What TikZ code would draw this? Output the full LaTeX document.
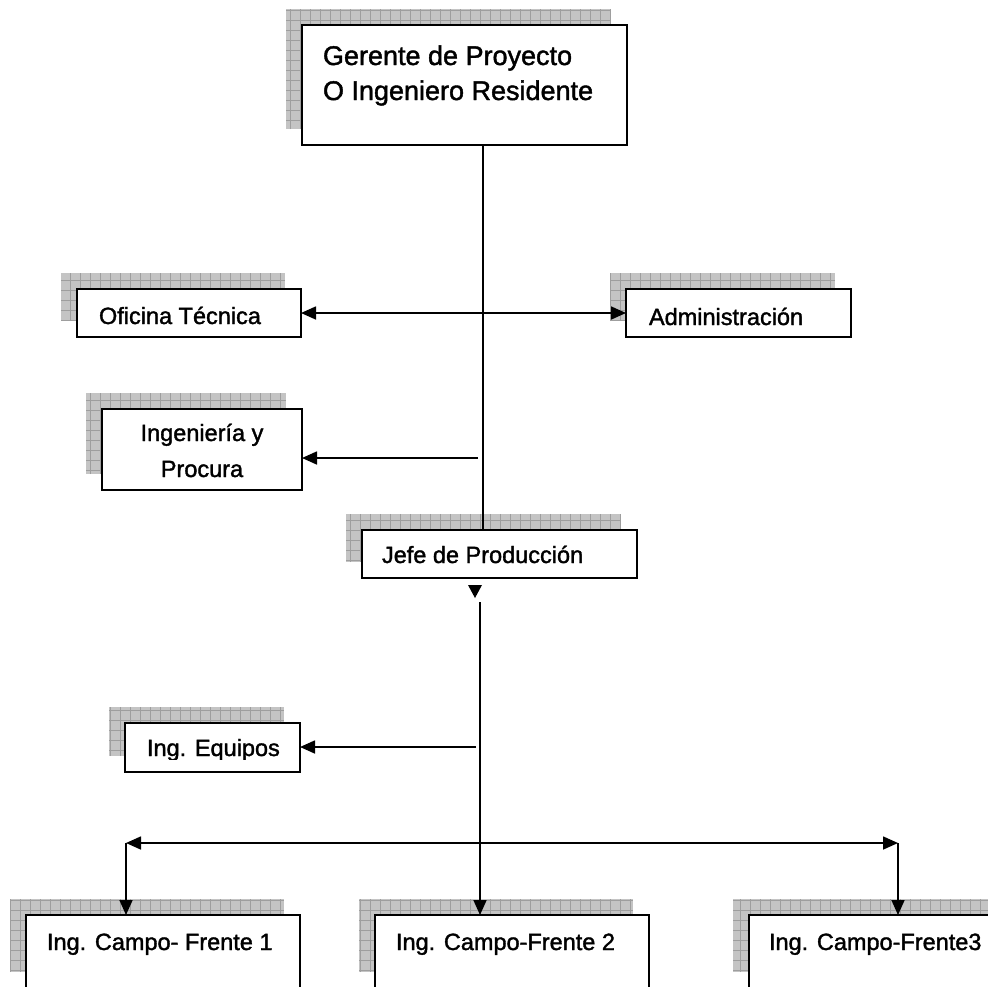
\documentclass[tikz,border=0pt]{standalone}
\usepackage{fontspec}
\setmainfont[FakeBold=1.5]{Liberation Sans}
\usetikzlibrary{arrows.meta,backgrounds}
\definecolor{shadowfill}{RGB}{196,196,196}
\definecolor{shadowgrid}{RGB}{158,158,158}
\tikzset{
  >={Triangle[length=15pt,width=13pt]},
  orgbox/.style={draw=black, line width=1.7pt, fill=white, anchor=north west,
    inner sep=0pt, outer sep=0pt},
  conn/.style={draw=black, line width=1.7pt},
  lbl/.style={inner sep=0pt, outer sep=0pt, font=\fontsize{23.5}{28}\selectfont},
  biglbl/.style={inner sep=0pt, outer sep=0pt, font=\fontsize{27}{33}\selectfont},
}
\begin{document}
\begin{tikzpicture}[x=1pt,y=-1pt]
\useasboundingbox (0,0) rectangle (988,986);

% boxes
\node[orgbox, minimum width=325pt, minimum height=120pt] (gerente) at (302,25) {};
\node[orgbox, minimum width=224pt, minimum height=48pt] (oficina) at (77,289) {};
\node[orgbox, minimum width=225pt, minimum height=48pt] (admin) at (626,289) {};
\node[orgbox, minimum width=200pt, minimum height=81pt] (ingproc) at (102,409) {};
\node[orgbox, minimum width=275pt, minimum height=48pt] (jefe) at (362,530) {};
\node[orgbox, minimum width=175pt, minimum height=49pt] (equipos) at (125,723) {};
\node[orgbox, minimum width=274pt, minimum height=73pt] (campoA) at (26,915) {};
\node[orgbox, minimum width=274pt, minimum height=73pt] (campoB) at (375,915) {};
\node[orgbox, minimum width=274pt, minimum height=73pt] (campoC) at (749,915) {};

% gridded drop shadows behind the boxes
\begin{scope}[on background layer]
\fill[white] (0,0) rectangle (988,986);
\foreach \b in {gerente,oficina,admin,ingproc,jefe,equipos,campoA,campoB,campoC}{
  \path ([shift={(-16,-16)}]\b.north west) coordinate (sa)
        ([shift={(-16,-16)}]\b.south east) coordinate (sb);
  \fill[shadowfill] (sa) rectangle (sb);
  \draw[shadowgrid, line width=0.9pt, step=10pt] (sa) grid (sb);
}
\end{scope}

% labels
\node[biglbl, anchor=base west] (gerenteA) at (323,65) {Gerente de Proyecto};
\node[biglbl, anchor=base west] (gerenteB) at (323,100) {O Ingeniero Residente};
\node[lbl, anchor=base west] (oficinaT) at (99,324) {Oficina Técnica};
\node[lbl, anchor=base west] (adminT) at (649,325) {Administración};
\node[lbl, anchor=base] (ingprocA) at (202,441) {Ingeniería y};
\node[lbl, anchor=base] (ingprocB) at (202,477) {Procura};
\node[lbl, anchor=base west] (jefeT) at (382,563) {Jefe de Producción};
\begin{scope}
  \clip (127,725) rectangle (298,759);
  \node[lbl, anchor=base west] (equiposT) at (147,756) {Ing. Equipos};
\end{scope}
\node[lbl, anchor=base west] (campoAT) at (47,950) {Ing. Campo- Frente 1};
\node[lbl, anchor=base west] (campoBT) at (396,950) {Ing. Campo-Frente 2};
\node[lbl, anchor=base west] (campoCT) at (769,950) {Ing. Campo-Frente3};

% connector anchor points
\coordinate (spine) at (483,0);
\coordinate (tapI) at (478,458);
\coordinate (trunk) at (480,602);
\coordinate (tapE) at (476,747);
\coordinate (busL) at (126,843);
\coordinate (busR) at (898,843);

% connectors
\draw[conn] (gerente.south -| spine) -- (jefe.north -| spine);
\draw[conn, <->] (oficina.east) -- (admin.west);
\draw[conn, ->] (tapI) -- (tapI -| ingproc.east);
\fill[black] (468,585) -- (482,585) -- (475,598) -- cycle;
\draw[conn, ->] (trunk) -- (trunk |- campoB.north);
\draw[conn, ->] (tapE) -- (tapE -| equipos.east);
\draw[conn, <->] (busL) -- (busR);
\draw[conn, ->] (busL) -- (busL |- campoA.north);
\draw[conn, ->] (busR) -- (busR |- campoC.north);
\end{tikzpicture}
\end{document}
